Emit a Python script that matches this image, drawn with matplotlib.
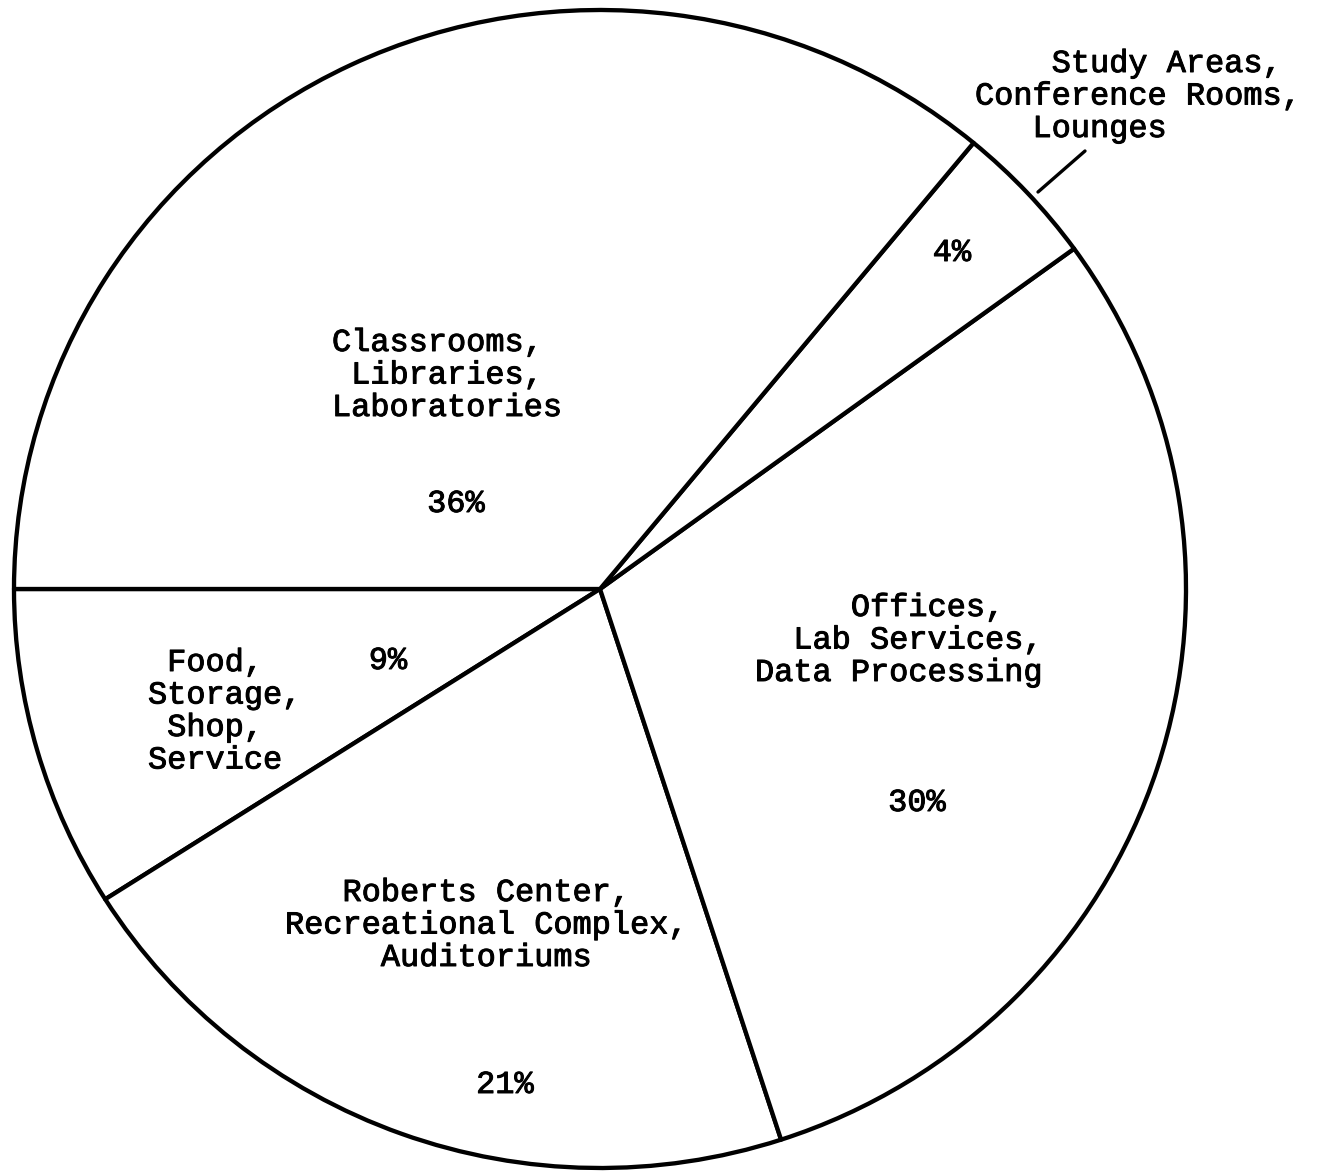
import matplotlib
matplotlib.use("Agg")
import matplotlib.pyplot as plt
import matplotlib.patheffects as pe

# Data (counter-clockwise from the 9 o'clock position)
categories = ["Food, Storage, Shop, Service",
              "Roberts Center, Recreational Complex, Auditoriums",
              "Offices, Lab Services, Data Processing",
              "Study Areas, Conference Rooms, Lounges",
              "Classrooms, Libraries, Laboratories"]
values = [9, 21, 30, 4, 36]
pct_labels = ["9%", "21%", "30%", "4%", "36%"]

label_lines = [
    [" Food,", "Storage,", " Shop,", "Service"],
    ["   Roberts Center,", "Recreational Complex,", "     Auditoriums"],
    ["     Offices,", "  Lab Services,", "Data Processing"],
    ["    Study Areas,", "Conference Rooms,", "   Lounges"],
    ["Classrooms,", " Libraries,", "Laboratories"],
]

W, H = 1318, 1173
fig = plt.figure(figsize=(W / 100, H / 100), dpi=100)
ax = fig.add_axes([0, 0, 1, 1])

# scanned circle is slightly elliptical: x radius 586 px, y radius 579 px
cxp, cyp = 600, 589
rx, ry = 586, 579
ax.pie(values, startangle=180, counterclock=True, radius=1,
       center=(0, 0), colors=["white"] * len(values),
       wedgeprops=dict(edgecolor="black", linewidth=3.1, joinstyle="round"),
       frame=True)
ax.set_xlim(-cxp / rx, (W - cxp) / rx)
ax.set_ylim(-(H - cyp) / ry, cyp / ry)
ax.set_aspect("auto")
ax.axis("off")


def px(x, y):
    return (x - cxp) / rx, (cyp - y) / ry


font = dict(family=["Liberation Mono", "DejaVu Sans Mono"], fontsize=23, color="black",
            path_effects=[pe.withStroke(linewidth=0.7, foreground="black")])

# label block anchor positions (left x, first line centre y) in pixels
label_pos = [(148, 663), (285, 893), (755, 608), (975, 64), (332, 343)]
pct_pos = [(388, 661), (505, 1085), (917, 803), (952, 253), (456, 504)]
step = 32.5

for lines, (lx, ly) in zip(label_lines, label_pos):
    for i, line in enumerate(lines):
        ax.text(*px(lx, ly + i * step), line, ha="left", va="center", **font)

for p, (qx, qy) in zip(pct_labels, pct_pos):
    ax.text(*px(qx, qy), p, ha="center", va="center", **font)

# leader line for the small slice label
a = px(1085, 151)
b = px(1038, 192)
ax.plot([a[0], b[0]], [a[1], b[1]], color="black", linewidth=2.4,
        solid_capstyle="round")

fig.savefig("out.png", dpi=100, facecolor="white")
